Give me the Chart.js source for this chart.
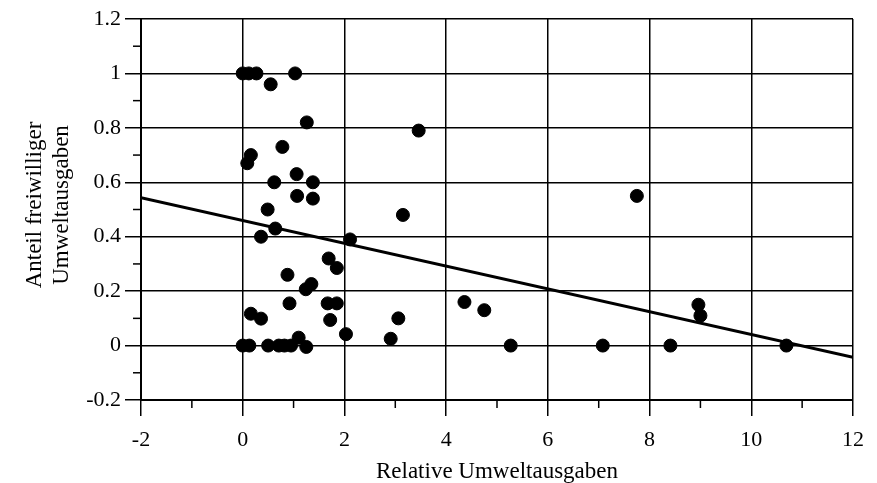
<!DOCTYPE html>
<html>
<head>
<meta charset="utf-8">
<script src="https://cdn.jsdelivr.net/npm/chart.js@4.4.1/dist/chart.umd.min.js"></script>
<style>
  html, body { margin: 0; padding: 0; background: #fff; }
  #wrap { width: 877px; height: 483px; }
</style>
</head>
<body>
<div id="wrap"><canvas id="myChart" width="877" height="483"></canvas></div>
<script>
// Relative Umweltausgaben (x) vs. Anteil freiwilliger Umweltausgaben (y)
var xVals = [0.0, 0.12, 0.27, 1.03, 0.55, 1.26, 3.46, 0.78, 0.16, 0.09,
             1.06, 0.62, 1.38, 1.07, 1.38, 0.49, 3.15, 0.64, 0.36, 2.11,
             1.69, 1.85, 0.88, 1.35, 1.24, 0.92, 1.67, 1.85, 0.16, 0.36,
             1.72, 2.03, 1.10, 2.91, 3.06, 0.0, 0.13, 0.50, 0.71, 0.82,
             0.95, 1.25, 7.75, 4.36, 4.75, 5.27, 7.08, 8.41, 10.69, 8.96, 9.0];
var yVals = [1.0, 1.0, 1.0, 1.0, 0.96, 0.82, 0.79, 0.73, 0.70, 0.67,
             0.63, 0.60, 0.60, 0.55, 0.54, 0.50, 0.48, 0.43, 0.40, 0.39,
             0.32, 0.285, 0.26, 0.226, 0.207, 0.155, 0.155, 0.155, 0.117, 0.099,
             0.094, 0.042, 0.029, 0.025, 0.10, 0.0, 0.0, 0.0, 0.0, 0.0,
             0.0, -0.005, 0.55, 0.16, 0.13, 0.0, 0.0, 0.0, 0.0, 0.15, 0.11];

// regression line end points
var fitX = [-2, 12];
var fitY = [0.543, -0.043];

// axis ticks
var xMinorTicks = [-1, 1, 3, 5, 7, 9, 11];
var yMinorTicks = [-0.1, 0.1, 0.3, 0.5, 0.7, 0.9, 1.1];

var xTitle = 'Relative Umweltausgaben';
var yTitle = ['Anteil freiwilliger', 'Umweltausgaben'];

var points = xVals.map(function (x, i) { return { x: x, y: yVals[i] }; });
var fitLine = fitX.map(function (x, i) { return { x: x, y: fitY[i] }; });

var serif = "'Liberation Serif', 'DejaVu Serif', serif";

// minor ticks and axis titles
var extras = {
  id: 'extras',
  afterDraw: function (chart) {
    var ctx = chart.ctx;
    var xs = chart.scales.x, ys = chart.scales.y;
    var area = chart.chartArea;
    ctx.save();
    ctx.strokeStyle = '#000';
    ctx.lineWidth = 1.5;
    yMinorTicks.forEach(function (v) {
      var py = ys.getPixelForValue(v);
      ctx.beginPath();
      ctx.moveTo(area.left - 8, py);
      ctx.lineTo(area.left, py);
      ctx.stroke();
    });
    xMinorTicks.forEach(function (v) {
      var px = xs.getPixelForValue(v);
      ctx.beginPath();
      ctx.moveTo(px, area.bottom);
      ctx.lineTo(px, area.bottom + 8);
      ctx.stroke();
    });

    ctx.fillStyle = '#000';
    ctx.font = '23px ' + serif;
    ctx.textAlign = 'center';
    ctx.textBaseline = 'middle';
    ctx.fillText(xTitle, (area.left + area.right) / 2, 472);

    ctx.translate(35, 205);
    ctx.rotate(-Math.PI / 2);
    ctx.fillText(yTitle[0], 0, 0);
    ctx.fillText(yTitle[1], 0, 27);
    ctx.restore();
  }
};

var ctx = document.getElementById('myChart').getContext('2d');
var chart = new Chart(ctx, {
  data: {
    datasets: [{
      type: 'scatter',
      data: points,
      backgroundColor: '#000',
      borderColor: '#000',
      pointRadius: 6.5,
      pointHoverRadius: 6.5,
      order: 2
    }, {
      type: 'line',
      data: fitLine,
      borderColor: '#000',
      borderWidth: 3,
      pointRadius: 0,
      fill: false,
      order: 1
    }]
  },
  options: {
    responsive: false,
    animation: false,
    layout: { padding: { top: 19, right: 24, left: 0, bottom: 0 } },
    plugins: {
      legend: { display: false },
      tooltip: { enabled: false }
    },
    scales: {
      x: {
        type: 'linear',
        min: -2,
        max: 12,
        afterFit: function (scale) { scale.height = 83; },
        ticks: {
          stepSize: 2,
          color: '#000',
          padding: 11,
          maxRotation: 0,
          font: { family: serif, size: 22 }
        },
        grid: { color: '#000', lineWidth: 1.5, tickLength: 16, tickColor: '#000' },
        border: { color: '#000', width: 2 }
      },
      y: {
        type: 'linear',
        min: -0.2,
        max: 1.2,
        afterFit: function (scale) { scale.width = 141; },
        ticks: {
          stepSize: 0.2,
          color: '#000',
          padding: 4,
          font: { family: serif, size: 22 },
          callback: function (v) { return Math.round(v * 10) / 10; }
        },
        grid: { color: '#000', lineWidth: 1.5, tickLength: 16, tickColor: '#000' },
        border: { color: '#000', width: 2 }
      }
    }
  },
  plugins: [extras]
});
</script>
</body>
</html>
